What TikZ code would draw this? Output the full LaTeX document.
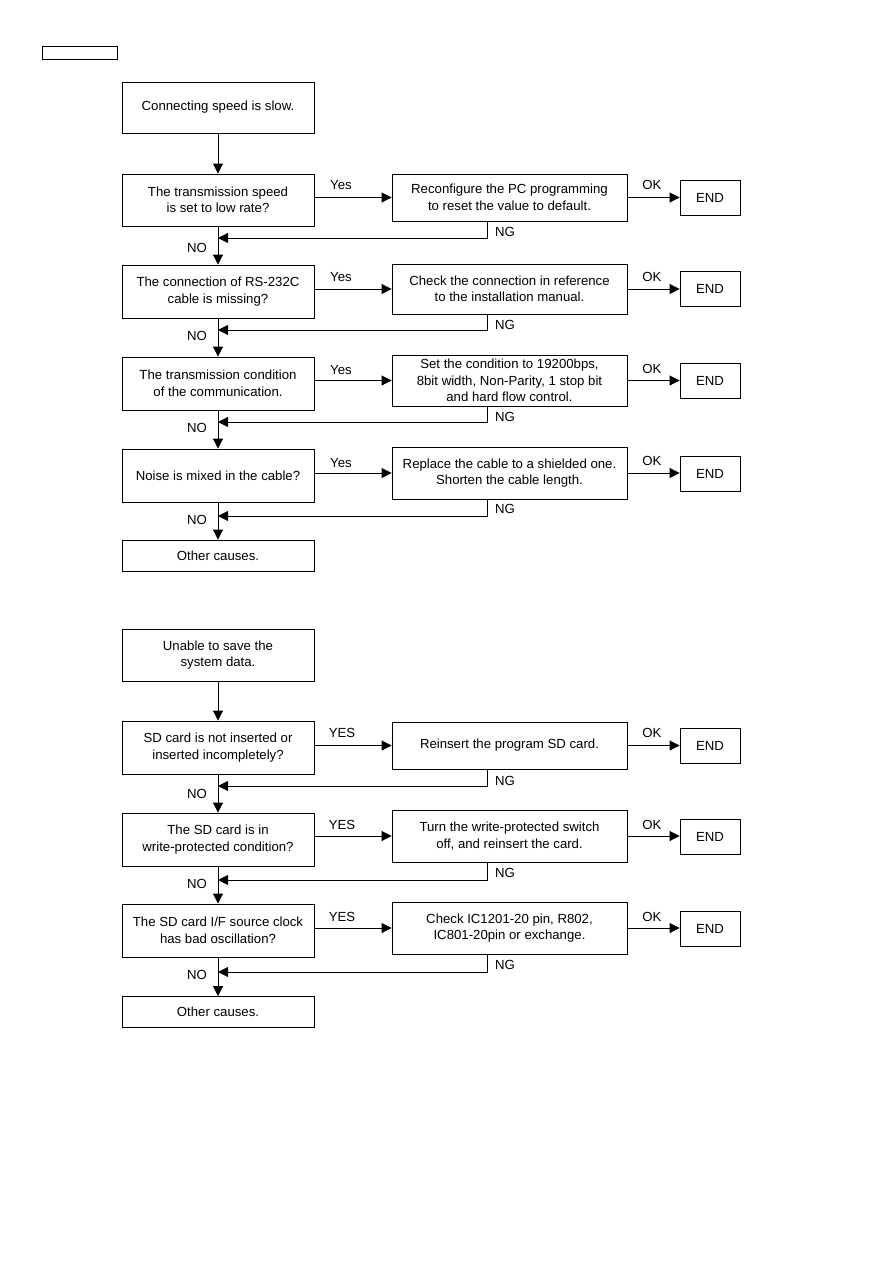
\documentclass[tikz,border=0pt]{standalone}
\usepackage{fontspec}
\setmainfont{Liberation Sans}
\usepackage{tikz}
\usetikzlibrary{
  arrows.meta,
  positioning,
}

\tikzset{
  box/.style={draw, line width=0.9pt, align=center, inner sep=2pt,
    font=\fontsize{13.2}{16.5}\selectfont},
  qbox/.style={box, minimum width=192pt},
  fixbox/.style={box, minimum width=235pt},
  endbox/.style={box, minimum width=60pt, minimum height=35pt},
  lbl/.style={font=\fontsize{13.2}{16}\selectfont, inner sep=0pt},
  arr/.style={-{Triangle[length=10pt, width=10pt]}, line width=0.9pt},
}

\begin{document}
\begin{tikzpicture}[x=1pt, y=-1pt]
  \fill[white] (0,0) rectangle (893,1263);
  \useasboundingbox (0,0) rectangle (893,1263);
  \node[draw, line width=0.9pt, minimum width=75pt, minimum height=13pt, inner sep=0pt] (hdr) at (79.5,52.5) {};

  % --- chart 1
  \node[qbox, minimum height=51pt] (s1) at (218,107.5) {Connecting speed is slow.};

  \node[qbox, minimum height=52pt] (d1) at (218,200) {The transmission speed\\is set to low rate?};
  \node[fixbox, minimum height=47pt] (m1) at (509.5,197.5) {Reconfigure the PC programming\\to reset the value to default.};
  \node[endbox] (e1) at (710,197.5) {END};

  \node[qbox, minimum height=53pt] (d2) at (218,291.5) {The connection of RS-232C\\cable is missing?};
  \node[fixbox, minimum height=50pt] (m2) at (509.5,289) {Check the connection in reference\\to the installation manual.};
  \node[endbox] (e2) at (710,289) {END};

  \node[qbox, minimum height=53pt] (d3) at (218,383.5) {The transmission condition\\of the communication.};
  \node[fixbox, minimum height=51pt] (m3) at (509.5,380.5) {Set the condition to 19200bps,\\8bit width, Non-Parity, 1 stop bit\\and hard flow control.};
  \node[endbox] (e3) at (710,381) {END};

  \node[qbox, minimum height=53pt] (d4) at (218,475.5) {Noise is mixed in the cable?};
  \node[fixbox, minimum height=52pt] (m4) at (509.5,473) {Replace the cable to a shielded one.\\Shorten the cable length.};
  \node[endbox] (e4) at (710,473.5) {END};

  \node[qbox, minimum height=31pt] (o1) at (218,555.5) {Other causes.};

  \coordinate (j1) at (218,238);
  \coordinate (j2) at (218,330);
  \coordinate (j3) at (218,422);
  \coordinate (j4) at (218,516);

  \draw[arr] (s1) -- (d1);
  \draw[arr] (d1) -- (d2);
  \draw[arr] (d2) -- (d3);
  \draw[arr] (d3) -- (d4);
  \draw[arr] (d4) -- (o1);
  \foreach \i in {1,...,4} {
    \draw[arr] (m\i.west -| d\i.east) -- (m\i.west);
    \draw[arr] (m\i.east) -- (m\i.east -| e\i.west);
    \draw[arr] ([xshift=-22.5pt]m\i.south) |- (j\i);
  }

  \node[lbl] at (341,185) {Yes};
  \node[lbl] at (341,277) {Yes};
  \node[lbl] at (341,370) {Yes};
  \node[lbl] at (341,463) {Yes};
  \node[lbl] at (652,185) {OK};
  \node[lbl] at (652,277) {OK};
  \node[lbl] at (652,369) {OK};
  \node[lbl] at (652,461) {OK};
  \node[lbl] at (505,232) {NG};
  \node[lbl] at (505,325) {NG};
  \node[lbl] at (505,417) {NG};
  \node[lbl] at (505,509) {NG};
  \node[lbl] at (197,248) {NO};
  \node[lbl] at (197,336) {NO};
  \node[lbl] at (197,428) {NO};
  \node[lbl] at (197,520) {NO};

  % --- chart 2
  \node[qbox, minimum height=52pt] (s2) at (218,655) {Unable to save the\\system data.};

  \node[qbox, minimum height=53pt] (d5) at (218,747.5) {SD card is not inserted or\\inserted incompletely?};
  \node[fixbox, minimum height=47pt] (m5) at (509.5,745.5) {Reinsert the program SD card.};
  \node[endbox] (e5) at (710,745.5) {END};

  \node[qbox, minimum height=53pt] (d6) at (218,839.5) {The SD card is in\\write-protected condition?};
  \node[fixbox, minimum height=52pt] (m6) at (509.5,836) {Turn the write-protected switch\\off, and reinsert the card.};
  \node[endbox] (e6) at (710,837) {END};

  \node[qbox, minimum height=53pt] (d7) at (218,930.5) {The SD card I/F source clock\\has bad oscillation?};
  \node[fixbox, minimum height=52pt] (m7) at (509.5,928) {Check IC1201-20 pin, R802,\\IC801-20pin or exchange.};
  \node[endbox] (e7) at (710,929) {END};

  \node[qbox, minimum height=31pt] (o2) at (218,1012) {Other causes.};

  \coordinate (j5) at (218,786);
  \coordinate (j6) at (218,880);
  \coordinate (j7) at (218,972);

  \draw[arr] (s2) -- (d5);
  \draw[arr] (d5) -- (d6);
  \draw[arr] (d6) -- (d7);
  \draw[arr] (d7) -- (o2);
  \foreach \i in {5,6,7} {
    \draw[arr] (m\i.west -| d\i.east) -- (m\i.west);
    \draw[arr] (m\i.east) -- (m\i.east -| e\i.west);
    \draw[arr] ([xshift=-22.5pt]m\i.south) |- (j\i);
  }

  \node[lbl] at (342,733) {YES};
  \node[lbl] at (342,825) {YES};
  \node[lbl] at (342,917) {YES};
  \node[lbl] at (652,733) {OK};
  \node[lbl] at (652,825) {OK};
  \node[lbl] at (652,917) {OK};
  \node[lbl] at (505,781) {NG};
  \node[lbl] at (505,873) {NG};
  \node[lbl] at (505,965) {NG};
  \node[lbl] at (197,794) {NO};
  \node[lbl] at (197,884) {NO};
  \node[lbl] at (197,975) {NO};
\end{tikzpicture}
\end{document}
